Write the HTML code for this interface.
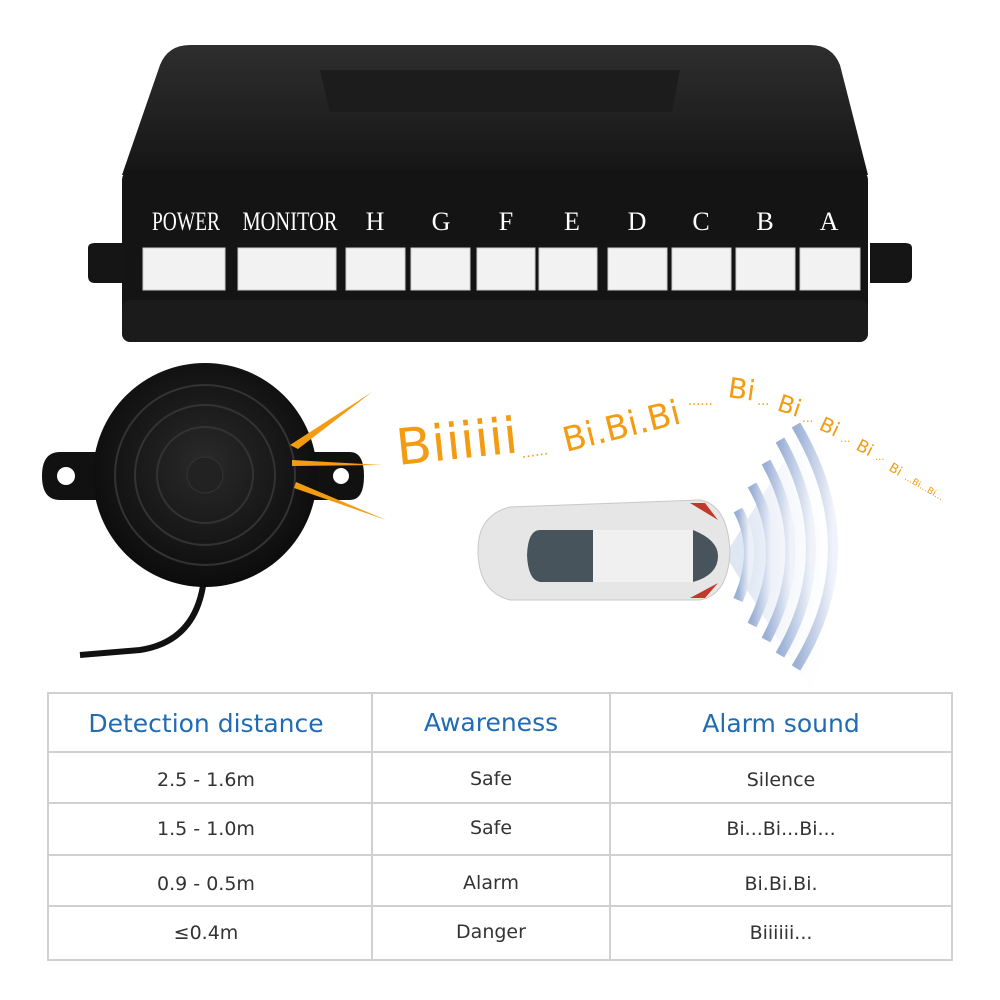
<!DOCTYPE html>
<html><head><meta charset="utf-8"><style>
body{margin:0;width:1000px;height:1000px;background:#fff;overflow:hidden;font-family:"Liberation Sans",sans-serif}
svg{position:absolute;left:0;top:0}
</style></head><body>
<svg width="1000" height="1000" viewBox="0 0 1000 1000">
<defs>
<linearGradient id="top" x1="0" y1="0" x2="0" y2="1"><stop offset="0" stop-color="#2e2e2e"/><stop offset="1" stop-color="#151515"/></linearGradient>
<radialGradient id="bz" cx="0.5" cy="0.45" r="0.55"><stop offset="0" stop-color="#2a2a2a"/><stop offset="1" stop-color="#0c0c0c"/></radialGradient>
<linearGradient id="wave" x1="0" y1="0" x2="1" y2="0"><stop offset="0" stop-color="#8aa3cf"/><stop offset="1" stop-color="#eef2f9"/></linearGradient>
<radialGradient id="wedge" cx="0" cy="0.5" r="1"><stop offset="0.2" stop-color="#dfe7f3"/><stop offset="1" stop-color="#fff" stop-opacity="0"/></radialGradient>
</defs>
<!-- control box -->
<path d="M122 175 L160 65 Q168 45 190 45 L810 45 Q832 45 840 65 L868 175 Z" fill="url(#top)"/>
<path d="M320 70 L680 70 L672 112 L330 112 Z" fill="#1c1c1c"/>
<path d="M88 248 Q88 243 95 243 L125 243 L125 283 L95 283 Q88 283 88 276Z" fill="#151515"/>
<path d="M912 248 Q912 243 905 243 L870 243 L870 283 L905 283 Q912 283 912 276Z" fill="#151515"/>
<rect x="122" y="170" width="746" height="172" rx="10" fill="#141414"/>
<rect x="122" y="300" width="746" height="42" rx="8" fill="#1b1b1b"/>
<g font-family="Liberation Serif,serif" fill="#fff" font-size="26" text-anchor="middle">
<text x="186" y="230" textLength="68" lengthAdjust="spacingAndGlyphs">POWER</text>
<text x="290" y="230" textLength="95" lengthAdjust="spacingAndGlyphs">MONITOR</text>
<text x="375" y="230">H</text><text x="441" y="230">G</text><text x="506" y="230">F</text><text x="572" y="230">E</text>
<text x="637" y="230">D</text><text x="701" y="230">C</text><text x="765" y="230">B</text><text x="829" y="230">A</text>
</g>
<g fill="#f2f2f2" stroke="#ccc">
<rect x="143" y="248" width="82" height="42"/><rect x="238" y="248" width="98" height="42"/>
<rect x="346" y="248" width="59" height="42"/><rect x="411" y="248" width="59" height="42"/>
<rect x="477" y="248" width="58" height="42"/><rect x="539" y="248" width="58" height="42"/>
<rect x="608" y="248" width="59" height="42"/><rect x="672" y="248" width="59" height="42"/>
<rect x="736" y="248" width="59" height="42"/><rect x="800" y="248" width="60" height="42"/>
</g>
<!-- buzzer -->
<path d="M205 560 Q205 640 140 650 L80 655" stroke="#111" stroke-width="6" fill="none"/>
<path d="M60 452 L130 452 L130 500 L60 500 Q42 500 42 476 Q42 452 60 452Z" fill="#111"/>
<path d="M350 452 L290 452 L290 500 L350 500 Q364 500 364 476 Q364 452 350 452Z" fill="#111"/>
<circle cx="66" cy="476" r="9" fill="#fff"/><circle cx="341" cy="476" r="8" fill="#fff"/>
<circle cx="205" cy="475" r="112" fill="url(#bz)"/>
<circle cx="205" cy="475" r="90" fill="none" stroke="#333" stroke-width="2"/>
<circle cx="205" cy="475" r="70" fill="none" stroke="#333" stroke-width="2"/>
<circle cx="205" cy="475" r="48" fill="none" stroke="#333" stroke-width="2"/>
<circle cx="205" cy="475" r="18" fill="#222" stroke="#333"/>
<g fill="#f39c12">
<path d="M290 445 L372 392 L298 449Z"/><path d="M292 460 L382 465 L292 466Z"/><path d="M296 482 L386 520 L294 488Z"/>
</g>
<!-- text -->
<g fill="#f39c12" font-family="DejaVu Sans,sans-serif">
<text x="398" y="465" font-size="50" textLength="122" lengthAdjust="spacingAndGlyphs" transform="rotate(-6 398 465)">Biiiiii</text>
<text x="522" y="458" font-size="14" transform="rotate(-8 522 458)">......</text>
<text x="566" y="452" font-size="34" textLength="120" lengthAdjust="spacingAndGlyphs" transform="rotate(-14 566 452)">Bi.Bi.Bi</text>
<text x="688" y="405" font-size="13">......</text>
<text x="727" y="397" font-size="28" transform="rotate(8 727 397)">Bi</text>
<text x="757" y="405" font-size="13">...</text>
<text x="776" y="410" font-size="24" transform="rotate(18 776 410)">Bi</text>
<text x="802" y="422" font-size="12">...</text>
<text x="818" y="429" font-size="20" transform="rotate(25 818 429)">Bi</text>
<text x="840" y="442" font-size="11">...</text>
<text x="855" y="449" font-size="17" transform="rotate(28 855 449)">Bi</text>
<text x="875" y="460" font-size="10">...</text>
<text x="888" y="470" font-size="13" transform="rotate(30 888 470)">Bi</text>
<text x="904" y="479" font-size="9" transform="rotate(30 904 479)">...Bi...Bi...</text>
</g>
<!-- waves -->
<path d="M725 555 L810 420 Q880 550 810 690 Z" fill="url(#wedge)"/>
<g fill="none" stroke="url(#wave)" stroke-width="10" opacity="0.85">
<path d="M738 510 Q760 550 738 600"/>
<path d="M752 485 Q790 550 752 625"/>
<path d="M766 462 Q815 550 766 640"/>
<path d="M780 440 Q842 550 780 655"/>
<path d="M796 425 Q870 550 796 668"/>
</g>
<!-- car -->
<path d="M510 507 Q478 515 478 550 Q478 592 510 600 L700 600 Q728 595 730 552 Q728 505 700 500 Z" fill="#e6e6e6" stroke="#c8c8c8"/>
<path d="M540 530 Q528 530 527 555 Q528 580 540 582 L593 582 L593 530Z" fill="#47545c"/>
<rect x="593" y="530" width="100" height="52" fill="#f0f0f0"/>
<path d="M693 530 Q718 540 718 556 Q718 575 693 582Z" fill="#47545c"/>
<path d="M690 503 L705 503 L718 520 Z" fill="#c0392b"/><path d="M690 598 L705 598 L718 583Z" fill="#c0392b"/>
<!-- table -->
<g stroke="#d0d0d0" stroke-width="2" fill="none">
<rect x="48" y="693" width="904" height="267"/>
<line x1="48" y1="752" x2="952" y2="752"/><line x1="48" y1="803" x2="952" y2="803"/>
<line x1="48" y1="855" x2="952" y2="855"/><line x1="48" y1="906" x2="952" y2="906"/>
<line x1="372" y1="693" x2="372" y2="960"/><line x1="610" y1="693" x2="610" y2="960"/>
</g>
<g font-family="DejaVu Sans,sans-serif" text-anchor="middle">
<g fill="#1f6cb5" font-size="25"><text x="206" y="732">Detection distance</text><text x="491" y="731">Awareness</text><text x="781" y="732">Alarm sound</text></g>
<g fill="#333" font-size="19">
<text x="206" y="786">2.5 - 1.6m</text><text x="491" y="785">Safe</text><text x="781" y="786">Silence</text>
<text x="206" y="835">1.5 - 1.0m</text><text x="491" y="834">Safe</text><text x="781" y="835">Bi...Bi...Bi...</text>
<text x="206" y="890">0.9 - 0.5m</text><text x="491" y="889">Alarm</text><text x="781" y="890">Bi.Bi.Bi.</text>
<text x="206" y="939">≤0.4m</text><text x="491" y="938">Danger</text><text x="781" y="939">Biiiiii...</text>
</g></g>
</svg>
</body></html>
